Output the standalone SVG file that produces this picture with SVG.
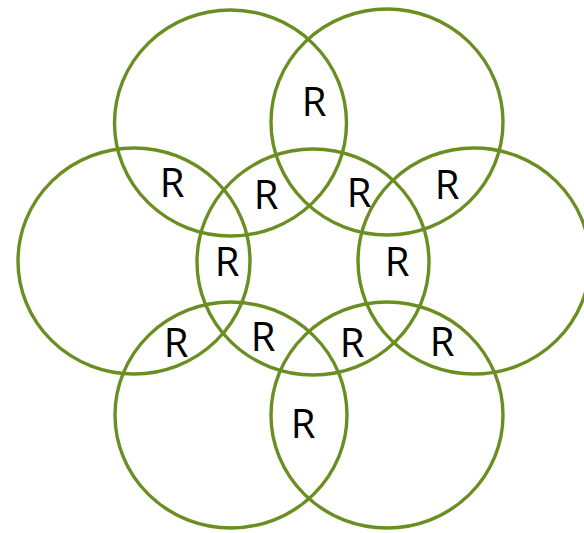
<svg xmlns="http://www.w3.org/2000/svg" width="584" height="533" viewBox="0 0 584 533">
<style>
.c{fill:none;stroke:#6B8E23;stroke-width:3.4}
.t{font-family:"Open Sans","Noto Sans","Liberation Sans",sans-serif;font-size:40px;fill:#000;text-anchor:middle}
</style>
<rect width="584" height="533" fill="#fff"/>
<g id="circle-tl"><ellipse class="c" cx="230.5" cy="123" rx="116" ry="113"/></g>
<g id="circle-tr"><ellipse class="c" cx="387" cy="122" rx="116" ry="113"/></g>
<g id="circle-l"><ellipse class="c" cx="134" cy="261" rx="116" ry="113"/></g>
<g id="circle-c"><ellipse class="c" cx="313" cy="262" rx="116" ry="113"/></g>
<g id="circle-r"><ellipse class="c" cx="474" cy="261" rx="116" ry="113"/></g>
<g id="circle-bl"><ellipse class="c" cx="231" cy="415" rx="116" ry="113"/></g>
<g id="circle-br"><ellipse class="c" cx="387" cy="415" rx="116" ry="113"/></g>
<g id="labels">
<text class="t" x="314" y="116">R</text>
<text class="t" x="172" y="197">R</text>
<text class="t" x="266" y="209">R</text>
<text class="t" x="359" y="207">R</text>
<text class="t" x="447" y="199">R</text>
<text class="t" x="227" y="276">R</text>
<text class="t" x="397" y="276">R</text>
<text class="t" x="176" y="357">R</text>
<text class="t" x="263" y="351">R</text>
<text class="t" x="352" y="357">R</text>
<text class="t" x="442" y="356">R</text>
<text class="t" x="303" y="438">R</text>
</g>
</svg>
